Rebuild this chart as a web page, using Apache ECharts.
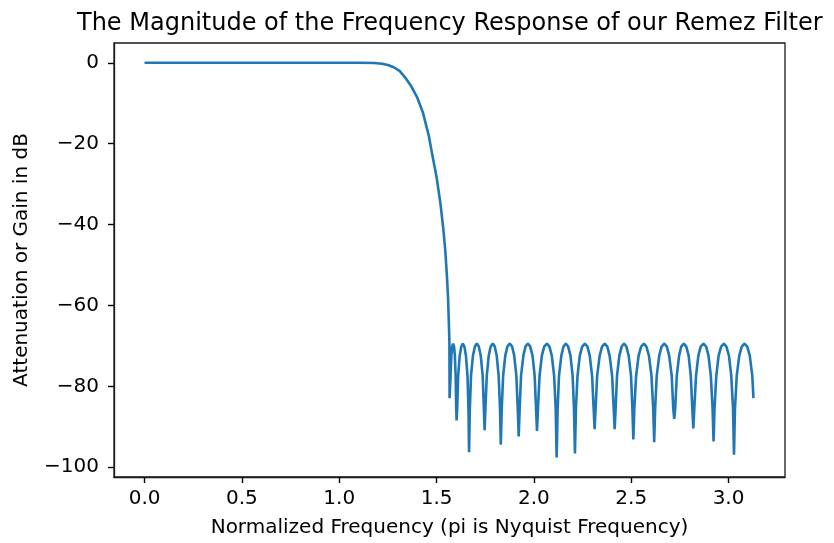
<!DOCTYPE html>
<html>
<head>
<meta charset="utf-8">
<script src="https://cdn.jsdelivr.net/npm/echarts@6/dist/echarts.min.js"></script>
<style>
  html, body { margin: 0; padding: 0; background: #fff; }
  #chart { width: 834px; height: 543px; }
</style>
</head>
<body>
<div id="chart"></div>
<script>
// magnitude response of the remez lowpass
var titleText = 'The Magnitude of the Frequency Response of our Remez Filter';
var xName = 'Normalized Frequency (pi is Nyquist Frequency)';
var yName = 'Attenuation or Gain in dB';

var xTicks = [0, 0.5, 1.0, 1.5, 2.0, 2.5, 3.0];
var yTicks = [0, -20, -40, -60, -80, -100];

// [frequency, dB]
var passband = [
  [0, 0], [0.3, 0], [0.6, 0], [0.9, 0], [1.1, 0], [1.18, -0.05]
];

var transition = [
  [1.22, -0.25], [1.25, -0.55], [1.28, -1.1], [1.31, -2.0], [1.34, -3.7],
  [1.37, -5.8], [1.40, -8.5], [1.43, -12.3], [1.46, -18.0], [1.48, -23.2],
  [1.50, -28.2], [1.52, -34.8], [1.535, -41.2], [1.545, -46.5], [1.553, -52.5],
  [1.559, -58], [1.563, -64], [1.566, -69]
];

var stopband = [
  [1.567, -82.9],
  [1.572, -77.4], [1.576, -72.4], [1.580, -70.15], [1.585, -69.4], [1.590, -70.15], [1.594, -72.4], [1.598, -77.4], [1.601, -85.5],
  [1.603, -88.4],
  [1.606, -85.5], [1.611, -77.4], [1.619, -72.4], [1.627, -70.15], [1.635, -69.4], [1.643, -70.15], [1.651, -72.4], [1.659, -77.4], [1.664, -85.5],
  [1.667, -96.3],
  [1.671, -85.5], [1.677, -77.4], [1.687, -72.4], [1.697, -70.15], [1.707, -69.4], [1.717, -70.15], [1.727, -72.4], [1.737, -77.4], [1.743, -85.5],
  [1.747, -90.8],
  [1.751, -85.5], [1.758, -77.4], [1.768, -72.4], [1.778, -70.15], [1.789, -69.4], [1.799, -70.15], [1.809, -72.4], [1.819, -77.4], [1.826, -85.5],
  [1.830, -94.4],
  [1.835, -85.5], [1.842, -77.4], [1.853, -72.4], [1.864, -70.15], [1.876, -69.4], [1.888, -70.15], [1.899, -72.4], [1.910, -77.4], [1.917, -85.5],
  [1.922, -92.4],
  [1.927, -85.5], [1.934, -77.4], [1.946, -72.4], [1.957, -70.15], [1.969, -69.4], [1.981, -70.15], [1.993, -72.4], [2.004, -77.4], [2.011, -85.5],
  [2.016, -91.0],
  [2.021, -85.5], [2.029, -77.4], [2.041, -72.4], [2.053, -70.15], [2.067, -69.4], [2.080, -70.15], [2.092, -72.4], [2.104, -77.4], [2.112, -85.5],
  [2.117, -97.6],
  [2.122, -85.5], [2.129, -77.4], [2.141, -72.4], [2.152, -70.15], [2.164, -69.4], [2.176, -70.15], [2.188, -72.4], [2.199, -77.4], [2.206, -85.5],
  [2.211, -96.6],
  [2.216, -85.5], [2.224, -77.4], [2.236, -72.4], [2.248, -70.15], [2.262, -69.4], [2.275, -70.15], [2.287, -72.4], [2.299, -77.4], [2.307, -85.5],
  [2.312, -90.6],
  [2.317, -85.5], [2.325, -77.4], [2.338, -72.4], [2.350, -70.15], [2.364, -69.4], [2.377, -70.15], [2.389, -72.4], [2.402, -77.4], [2.410, -85.5],
  [2.415, -90.6],
  [2.420, -85.5], [2.427, -77.4], [2.439, -72.4], [2.451, -70.15], [2.463, -69.4], [2.475, -70.15], [2.487, -72.4], [2.499, -77.4], [2.506, -85.5],
  [2.511, -93.1],
  [2.516, -85.5], [2.525, -77.4], [2.538, -72.4], [2.551, -70.15], [2.565, -69.4], [2.578, -70.15], [2.591, -72.4], [2.604, -77.4], [2.613, -85.5],
  [2.618, -93.8],
  [2.623, -85.5], [2.631, -77.4], [2.644, -72.4], [2.656, -70.15], [2.670, -69.4], [2.683, -70.15], [2.695, -72.4], [2.708, -77.4], [2.716, -85.5],
  [2.721, -88.0],
  [2.726, -85.5], [2.734, -77.4], [2.746, -72.4], [2.757, -70.15], [2.770, -69.4], [2.783, -70.15], [2.795, -72.4], [2.806, -77.4], [2.814, -85.5],
  [2.819, -90.4],
  [2.824, -85.5], [2.833, -77.4], [2.845, -72.4], [2.857, -70.15], [2.871, -69.4], [2.885, -70.15], [2.897, -72.4], [2.909, -77.4], [2.918, -85.5],
  [2.923, -93.6],
  [2.928, -85.5], [2.937, -77.4], [2.949, -72.4], [2.962, -70.15], [2.976, -69.4], [2.989, -70.15], [3.002, -72.4], [3.014, -77.4], [3.023, -85.5],
  [3.028, -96.9],
  [3.033, -85.5], [3.042, -77.4], [3.055, -72.4], [3.068, -70.15], [3.082, -69.4], [3.096, -70.15], [3.109, -72.4], [3.122, -77.4],
  [3.128, -82.9]
];

var response = passband.concat(transition, stopband);

var font = 'DejaVu Sans';
var ink = '#1a1a1a';

var chart = echarts.init(document.getElementById('chart'), null, { renderer: 'canvas' });

chart.setOption({
  animation: false,
  backgroundColor: '#fff',
  title: {
    text: titleText,
    left: 72,
    top: 7,
    textStyle: { fontFamily: font, fontSize: 24, fontWeight: 'normal', color: '#000' }
  },
  grid: {
    left: 114, right: 49, top: 43, bottom: 65,
    show: true, borderColor: ink, borderWidth: 1.3
  },
  xAxis: {
    type: 'value',
    min: -0.157,
    max: 3.29,
    name: xName,
    nameLocation: 'middle',
    nameGap: 41,
    nameTextStyle: { fontFamily: font, fontSize: 20, color: '#000' },
    axisLine: { show: true, onZero: false, lineStyle: { color: ink, width: 1.3 } },
    axisTick: { show: true, length: 6, customValues: xTicks, lineStyle: { color: '#000', width: 1.4 } },
    axisLabel: {
      customValues: xTicks,
      margin: 12,
      fontFamily: font, fontSize: 20, color: '#000',
      formatter: function (v) { return v.toFixed(1); }
    },
    splitLine: { show: false }
  },
  yAxis: {
    type: 'value',
    min: -102.4,
    max: 4.9,
    name: yName,
    nameLocation: 'middle',
    nameGap: 82,
    nameTextStyle: { fontFamily: font, fontSize: 20, color: '#000' },
    axisLine: { show: true, onZero: false, lineStyle: { color: ink, width: 1.3 } },
    axisTick: { show: true, length: 6, customValues: yTicks, lineStyle: { color: '#000', width: 1.4 } },
    axisLabel: {
      customValues: yTicks,
      margin: 15,
      fontFamily: font, fontSize: 20, color: '#000',
      formatter: function (v) { return v < 0 ? '\u2212' + Math.abs(v) : String(v); }
    },
    splitLine: { show: false }
  },
  series: [{
    type: 'line',
    data: response,
    showSymbol: false,
    lineStyle: { color: '#1f77b4', width: 2.6 },
    clip: true
  }]
});
</script>
</body>
</html>
